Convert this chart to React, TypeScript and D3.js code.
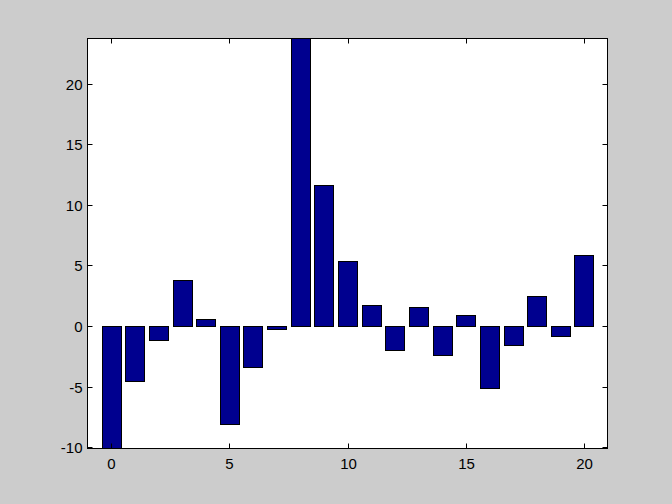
import React from "react";
import * as d3 from "d3";

const categories = d3.range(0, 21);
const values = [-11, -4.56, -1.18, 3.78, 0.6, -8.07, -3.38, -0.27, 28, 11.63, 5.37, 1.75, -2.0, 1.59, -2.42, 0.93, -5.13, -1.59, 2.49, -0.85, 5.87];
const xTicks = [0, 5, 10, 15, 20];
const yTicks = [-10, -5, 0, 5, 10, 15, 20];

const W = 672, H = 504;
const left = 87.5, right = 607.5, top = 38.5, bottom = 448.5;

export default function App() {
  const x = d3.scaleLinear().domain([-1, 21]).range([left, right]);
  const y = d3.scaleLinear().domain([-10.1, 23.73]).range([bottom, top]);
  const bw = x(0.8) - x(0);
  const tl = 5;
  return (
    <svg width={W} height={H} style={{ position: "absolute", left: 0, top: 0, display: "block" }}>
      <defs>
        <clipPath id="pa">
          <rect x={left} y={top} width={right - left} height={bottom - top} />
        </clipPath>
      </defs>
      <rect x={0} y={0} width={W} height={H} fill="#cccccc" />
      <rect x={left} y={top} width={right - left} height={bottom - top} fill="#ffffff" />
      <g clipPath="url(#pa)">
        {categories.map((c, i) => {
          const v = values[i];
          const y0 = y(0), y1 = y(v);
          return (
            <rect key={c} x={Math.round(x(c) - bw / 2) + 0.5} y={Math.round(Math.min(y0, y1)) + 0.5}
              width={Math.round(bw)} height={Math.round(Math.abs(y1 - y0))}
              fill="#00008f" stroke="#000" strokeWidth={1} />
          );
        })}
      </g>
      <rect x={left} y={top} width={right - left} height={bottom - top} fill="none" stroke="#000" strokeWidth={1} />
      {xTicks.map((t) => {
        const px = Math.round(x(t)) + 0.5;
        return (
          <g key={"x" + t}>
            <line x1={px} x2={px} y1={bottom} y2={bottom - tl} stroke="#000" />
            <line x1={px} x2={px} y1={top} y2={top + tl} stroke="#000" />
            <text x={px} y={bottom + 20} textAnchor="middle" fontFamily="Liberation Sans, Arial, sans-serif" fontSize={15} fill="#000">{t}</text>
          </g>
        );
      })}
      {yTicks.map((t) => {
        const py = Math.round(y(t)) + 0.5;
        return (
          <g key={"y" + t}>
            <line x1={left} x2={left + tl} y1={py} y2={py} stroke="#000" />
            <line x1={right} x2={right - tl} y1={py} y2={py} stroke="#000" />
            <text x={left - 5} y={py + 5} textAnchor="end" fontFamily="Liberation Sans, Arial, sans-serif" fontSize={15} fill="#000">{t}</text>
          </g>
        );
      })}
    </svg>
  );
}
